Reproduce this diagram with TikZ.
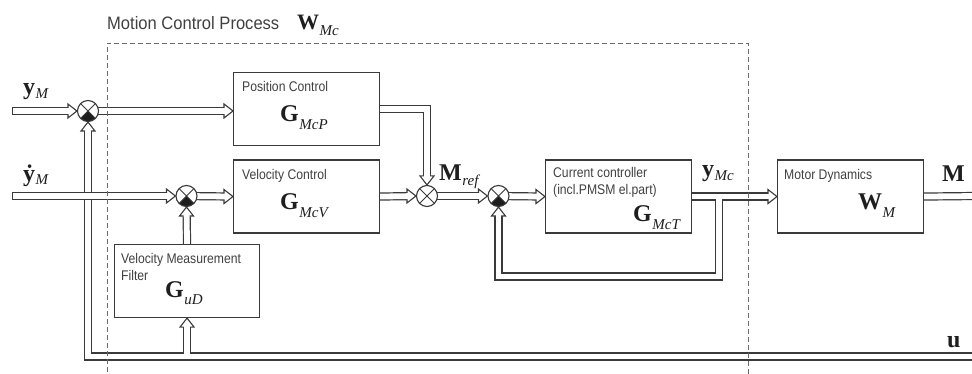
\documentclass[tikz,border=0pt]{standalone}
\usepackage{fontspec}
\setmainfont{Liberation Sans}[FakeStretch=0.87]
\newfontfamily\titlefont{Liberation Sans}[FakeStretch=0.92]
\newfontfamily\symfont{Liberation Serif}
\definecolor{ink}{HTML}{3A3A3A}
\definecolor{txt}{HTML}{404040}
\definecolor{symclr}{HTML}{1E1E1E}
\definecolor{dashclr}{HTML}{6A6A6A}
\pgfdeclarelayer{background}
\pgfsetlayers{background,main}

% bold serif symbol with italic subscript: size, symbol, subsize, subscript, drop
\newcommand\bsym[5]{{\symfont\fontsize{#1}{#1}\selectfont\bfseries #2}\kern0.5pt\raisebox{-#5pt}{\symfont\fontsize{#3}{#3}\selectfont\itshape #4}}

% open arrow heads, tip at the given point
\newcommand\headE[1]{\filldraw[headstyle] (#1) -- ++(-9,-7) -- ++(0,14) -- cycle;}
\newcommand\headU[1]{\filldraw[headstyle] (#1) -- ++(-7,9) -- ++(14,0) -- cycle;}
\newcommand\headD[1]{\filldraw[headstyle] (#1) -- ++(-7,-9) -- ++(14,0) -- cycle;}

\tikzset{
  box/.style={draw=ink, line width=1.1pt, minimum width=146pt, minimum height=73pt,
    anchor=north west, inner sep=0pt},
  sumnode/.style={circle, draw=ink, fill=white, line width=1.1pt, minimum size=21pt,
    inner sep=0pt,
    path picture={\draw[ink, line width=0.9pt]
      (path picture bounding box.north west) -- (path picture bounding box.south east)
      (path picture bounding box.north east) -- (path picture bounding box.south west);}},
  negsum/.style={sumnode,
    path picture={\fill[symclr] (path picture bounding box.center)
      -- (path picture bounding box.south west) -- (path picture bounding box.south east) -- cycle;
      \draw[ink, line width=0.9pt]
      (path picture bounding box.north west) -- (path picture bounding box.south east)
      (path picture bounding box.north east) -- (path picture bounding box.south west);}},
  lbl/.style={anchor=base west, inner sep=0pt, text=txt, font=\fontsize{14}{16}\selectfont},
  sym/.style={anchor=base west, inner sep=0pt, text=symclr},
  headstyle/.style={fill=white, draw=ink, line width=1.1pt, line join=miter},
  darkpass/.style={ink, line width=8.2pt, tohead/.style={shorten >=8.5pt}, closedstart/.style={}},
  whitepass/.style={white, line width=5.8pt, tohead/.style={shorten >=7.3pt},
    closedstart/.style={shorten <=1.2pt}},
}

% signal pipes of the loop
\newcommand\mainpipes{%
  \draw[closedstart,tohead] (inM) -- (j1.west);
  \draw[tohead] (j1.center) -- (pcin);
  \draw[tohead] (j2.center) -- (vc.west);
  \draw[tohead] (pc.east) -- (pc.east -| j3) -- (j3.north);
  \draw[tohead] (vc.east) -- (j3.west);
  \draw[tohead] (j3.center) -- (j4.west);
  \draw[tohead] (j4.center) -- (cc.west);
  \draw[tohead] (cc.east) -- (md.west);
  \draw[tohead] (tap) -- (fbturn) -- (fbturn -| j4) -- (j4.south);
  \draw (md.east) -- (outM);
  \draw[tohead] (uin) -- (uin -| j1) -- (j1.south);
  \draw[tohead] (uin -| f.south) -- (f.south);
  \draw[tohead] (f.north) -- (j2.south);
}
\newcommand\mainheads{%
  \headE{j1.west} \headE{pcin} \headE{vc.west} \headD{j3.north} \headE{j3.west}
  \headE{j4.west} \headE{cc.west} \headE{md.west} \headU{j4.south} \headU{j1.south}
  \headU{f.south} \headU{j2.south}
}
\newcommand\velpipe{\draw[closedstart,tohead] (inV) -- (j2.west);}

\begin{document}
\begin{tikzpicture}[x=1pt,y=-1pt]
\useasboundingbox (0,0) rectangle (972,374);

% blocks
\node[box] (pc) at (233,72) {};
\node[box] (vc) at (233,159.5) {};
\node[box, minimum width=145pt] (f) at (114,244) {};
\node[box] (cc) at (545,159.5) {};
\node[box] (md) at (777,159.5) {};

% summing junctions
\node[negsum] (j1) at (88,111) {};
\node[negsum] (j2) at (186.5,196) {};
\node[sumnode] (j3) at (427,196) {};
\node[negsum] (j4) at (498.5,196) {};

% free ends and branch points
\coordinate (inM) at (12,111);
\coordinate (inV) at (12,196);
\coordinate (pcin) at (j1 -| pc.west);
\coordinate (tap) at (719,196);
\coordinate (fbturn) at (719,276.5);
\coordinate (outM) at (976,196);
\coordinate (uin) at (976,356.5);

\begin{pgfonlayer}{background}
  \begin{scope}[darkpass] \mainpipes \end{scope}
  \mainheads
  \begin{scope}[whitepass] \mainpipes \end{scope}
  \begin{scope}[darkpass] \velpipe \end{scope}
  \headE{j2.west}
  \begin{scope}[whitepass] \velpipe \end{scope}
\end{pgfonlayer}

% process boundary
\coordinate (bl) at (107,380);
\coordinate (tl) at (107,43);
\coordinate (tr) at (748,43);
\coordinate (br) at (748,380);
\draw[dashclr, line width=0.9pt, dash pattern=on 5pt off 3pt] (bl) -- (tl) -- (tr) -- (br);

% texts
\node[anchor=base west, inner sep=0pt, text=txt, font=\titlefont\fontsize{18}{20}\selectfont] (title) at (107,30) {Motion Control Process};
\node[sym] (wmc) at (297,30) {\bsym{22}{W}{15}{Mc}{6}};

\node[lbl] (pct) at (242,92) {Position Control};
\node[sym] (gp) at (280,122) {\bsym{24}{G}{15}{McP}{8}};
\node[lbl] (vct) at (242,180) {Velocity Control};
\node[sym] (gv) at (280,210) {\bsym{24}{G}{15}{McV}{8}};
\node[lbl] (ft1) at (121,263) {Velocity Measurement};
\node[lbl] (ft2) at (121,280) {Filter};
\node[sym] (gu) at (165,298) {\bsym{24}{G}{15}{uD}{6}};
\node[lbl] (cct1) at (553,178) {Current controller};
\node[lbl] (cct2) at (553,195) {(incl.PMSM el.part)};
\node[sym] (gt) at (633,222) {\bsym{24}{G}{15}{McT}{8}};
\node[lbl] (mdt) at (784,180) {Motor Dynamics};
\node[sym] (wm) at (858,210) {\bsym{24}{W}{15}{M}{8}};

\node[sym] (ymc) at (702,177) {\bsym{24}{y}{15}{Mc}{4}};
\node[sym] (mout) at (942,182) {\bsym{24}{M}{15}{}{0}};
\node[sym] (ulab) at (947,347) {\bsym{24}{u}{15}{}{0}};
\node[sym] (ym) at (23,95) {\bsym{24}{y}{15}{M}{4}};
\node[sym] (ydm) at (23,182) {\bsym{24}{\.{y}}{15}{M}{3}};
\node[sym] (mref) at (439,181) {\bsym{24}{M}{15}{ref}{5}};
\end{tikzpicture}
\end{document}
